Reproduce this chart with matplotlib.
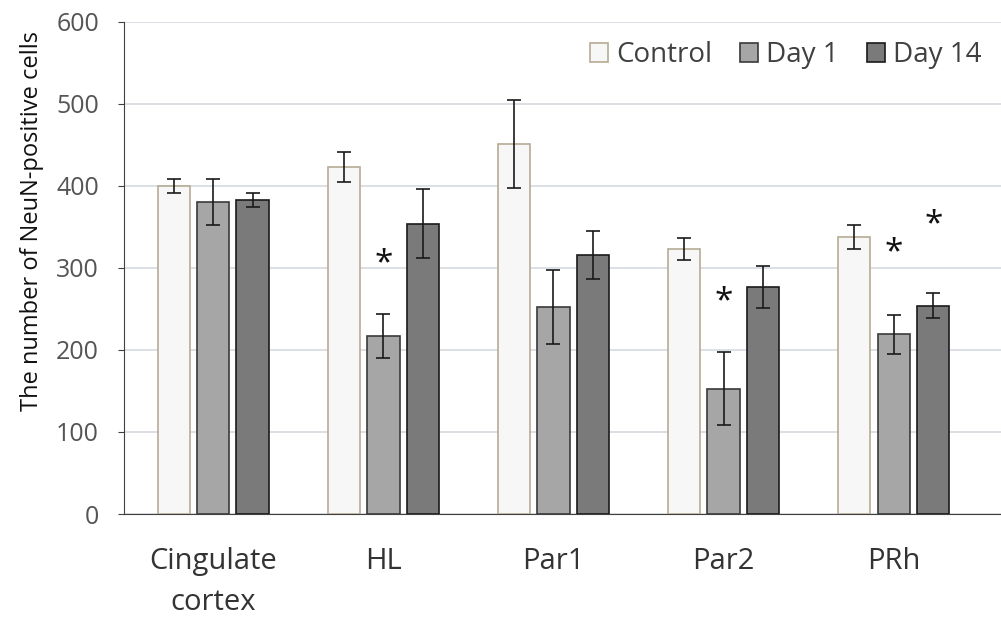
import matplotlib
matplotlib.use("Agg")
import matplotlib.pyplot as plt
import numpy as np
from matplotlib.patches import Patch

regions = ["Cingulate\ncortex", "HL", "Par1", "Par2", "PRh"]
series = ["Control", "Day 1", "Day 14"]
control = [400, 423, 451, 323, 338]
control_err = [9, 18, 54, 13, 15]
day1 = [381, 217, 252, 153, 219]
day1_err = [28, 27, 45, 44, 24]
day14 = [383, 354, 316, 277, 254]
day14_err = [9, 42, 29, 26, 15]
# significance markers: (region index, series index, marker height)
sig_region = [1, 3, 4, 4]
sig_series = [1, 1, 1, 2]
sig_y = [305, 259, 318, 353]

values = [control, day1, day14]
errors = [control_err, day1_err, day14_err]
fills = ["#f7f7f7", "#a6a6a6", "#7a7a7a"]
edges = ["#b5ab95", "#3a3a3a", "#1a1a1a"]

plt.rcParams['font.family'] = ['Open Sans', 'DejaVu Sans']

fig = plt.figure(figsize=(10.01, 6.21), dpi=100)
ax = fig.add_axes([0.1239, 0.1723, 0.8761, 0.7923])

x = np.arange(len(regions))
width = 0.19
step = 0.232
for i in range(3):
    xs = x + (i - 1) * step
    ax.bar(xs, values[i], width, color=fills[i], edgecolor=edges[i], linewidth=1.2, zorder=3)
    ax.errorbar(xs, values[i], yerr=errors[i], fmt='none', ecolor='#1a1a1a',
                elinewidth=1.2, capsize=5, capthick=1.2, zorder=4)

for r, s, yv in zip(sig_region, sig_series, sig_y):
    ax.text(x[r] + (s - 1) * step, yv, "*", ha='center', va='center',
            fontsize=24, color='#111111', zorder=5)

ax.set_ylim(0, 600)
ax.set_xlim(-0.524, 4.63)
ax.set_yticks(range(0, 601, 100))
ax.yaxis.grid(True, color='#d5dadf', linewidth=1.2, zorder=0)
ax.set_axisbelow(True)
ax.set_xticks(x)
ax.set_xticklabels(regions, fontsize=21, color='#333333', linespacing=1.55, va='top')
ax.tick_params(axis='x', length=0, pad=24)
ax.tick_params(axis='y', length=4, labelsize=18, labelcolor='#555555', pad=14, color='#404040')

for sp in ['top', 'right']:
    ax.spines[sp].set_visible(False)
ax.spines['left'].set_color('#404040')
ax.spines['bottom'].set_color('#404040')

ax.set_ylabel("The number of NeuN-positive cells", fontsize=17, color='#111111',
              labelpad=9, y=0.595)

handles = [Patch(facecolor=fills[i], edgecolor=edges[i], linewidth=1.2) for i in range(3)]
leg = ax.legend(handles, series, ncol=3, loc='upper right', bbox_to_anchor=(1.0, 1.0),
                frameon=False, fontsize=20, handlelength=0.65, handleheight=0.65,
                handletextpad=0.3, columnspacing=1.0, labelcolor='#404040',
                borderaxespad=0.3)

fig.savefig("out.png", dpi=100)
